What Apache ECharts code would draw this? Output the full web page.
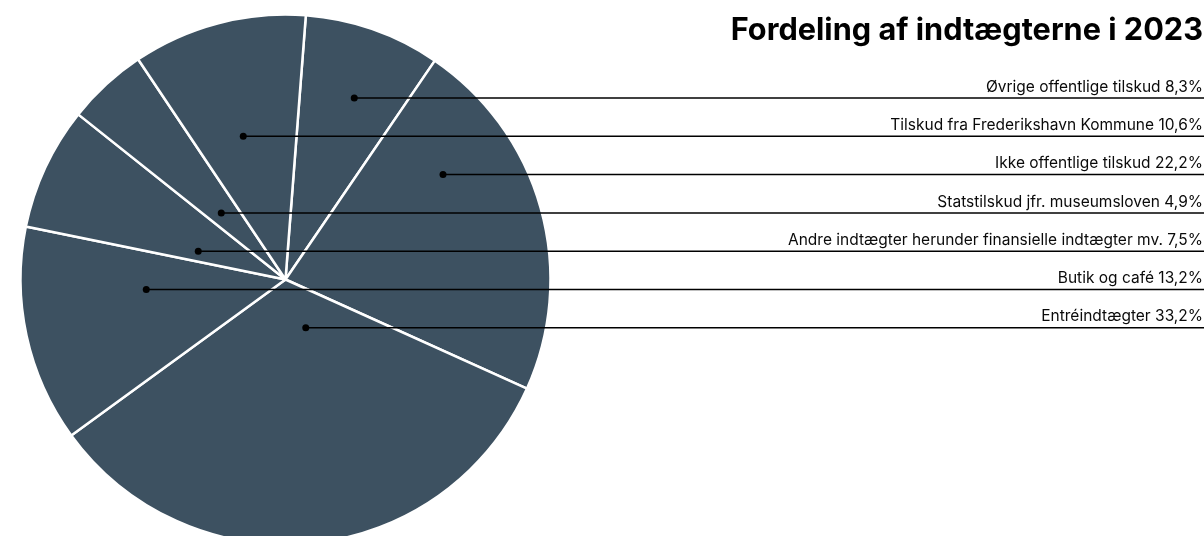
<!DOCTYPE html>
<html>
<head>
<meta charset="utf-8">
<script src="https://cdn.jsdelivr.net/npm/echarts@6/dist/echarts.min.js"></script>
<style>
  html, body { margin: 0; padding: 0; background: #fff; }
  #main { width: 1204px; height: 536px; }
</style>
</head>
<body>
<div id="main"></div>
<script>
// slices in clockwise order, starting just right of 12 o'clock
var categories = [
  'Øvrige offentlige tilskud',
  'Ikke offentlige tilskud',
  'Entréindtægter',
  'Butik og café',
  'Andre indtægter herunder finansielle indtægter mv.',
  'Statstilskud jfr. museumsloven',
  'Tilskud fra Frederikshavn Kommune'
];
var values = [8.3, 22.2, 33.2, 13.2, 7.5, 4.9, 10.6];
// which label row (top to bottom) each slice gets
var labelRow = [0, 2, 6, 5, 4, 3, 1];

var W = 1204;
var firstRowY = 98;
var rowStep = 38.3;

var chart = echarts.init(document.getElementById('main'));

function sliceLayout(i) {
  return chart.getModel().getSeriesByIndex(0).getData().getItemLayout(i);
}

// middle of the horizontal chord that the label row cuts through the slice
function dotX(lay, y) {
  var span = lay.endAngle - lay.startAngle;
  var minX = null, maxX = null;
  for (var x = lay.cx - lay.r; x <= lay.cx + lay.r; x += 0.5) {
    var dx = x - lay.cx, dy = y - lay.cy;
    if (dx * dx + dy * dy > lay.r * lay.r) continue;
    var a = Math.atan2(dy, dx) - lay.startAngle;
    a = ((a % (2 * Math.PI)) + 2 * Math.PI) % (2 * Math.PI);
    if (a <= span) {
      if (minX === null) minX = x;
      maxX = x;
    }
  }
  return minX === null ? lay.cx : (minX + maxX) / 2;
}

function rowY(i) {
  return firstRowY + rowStep * labelRow[i];
}

var pieData = categories.map(function (name, i) {
  return { name: name, value: values[i] };
});

var option = {
  animation: false,
  title: {
    text: 'Fordeling af indtægterne i 2023',
    right: 1,
    top: 15,
    padding: 0,
    textStyle: {
      fontFamily: 'Inter',
      fontSize: 30.7,
      fontWeight: 700,
      color: '#000'
    }
  },
  series: [
    {
      type: 'pie',
      center: [285.5, 279.5],
      radius: 265,
      startAngle: 85.6,
      clockwise: true,
      avoidLabelOverlap: false,
      silent: true,
      itemStyle: {
        color: '#3d5161',
        borderColor: '#fff',
        borderWidth: 2.5
      },
      label: {
        show: true,
        position: 'outside',
        fontFamily: 'Inter',
        fontSize: 15.5,
        color: '#0a0a0a',
        formatter: function (p) {
          return p.name + ' ' + p.value.toFixed(1).replace('.', ',') + '%';
        }
      },
      labelLine: { show: false },
      labelLayout: function (p) {
        return {
          x: W - 1,
          y: rowY(p.dataIndex) - 3,
          align: 'right',
          verticalAlign: 'bottom'
        };
      },
      data: pieData
    }
  ]
};

chart.setOption(option);

// leader lines and dots, placed from the pie's own layout
var marks = [];
values.forEach(function (v, i) {
  var lay = sliceLayout(i);
  var y = rowY(i);
  var x = dotX(lay, y);
  marks.push({
    type: 'line',
    shape: { x1: x, y1: y, x2: W, y2: y },
    style: { stroke: '#000', lineWidth: 1.5 },
    z: 100
  });
  marks.push({
    type: 'circle',
    shape: { cx: x, cy: y, r: 3.5 },
    style: { fill: '#000' },
    z: 101
  });
});
chart.setOption({ graphic: marks });
</script>
</body>
</html>
